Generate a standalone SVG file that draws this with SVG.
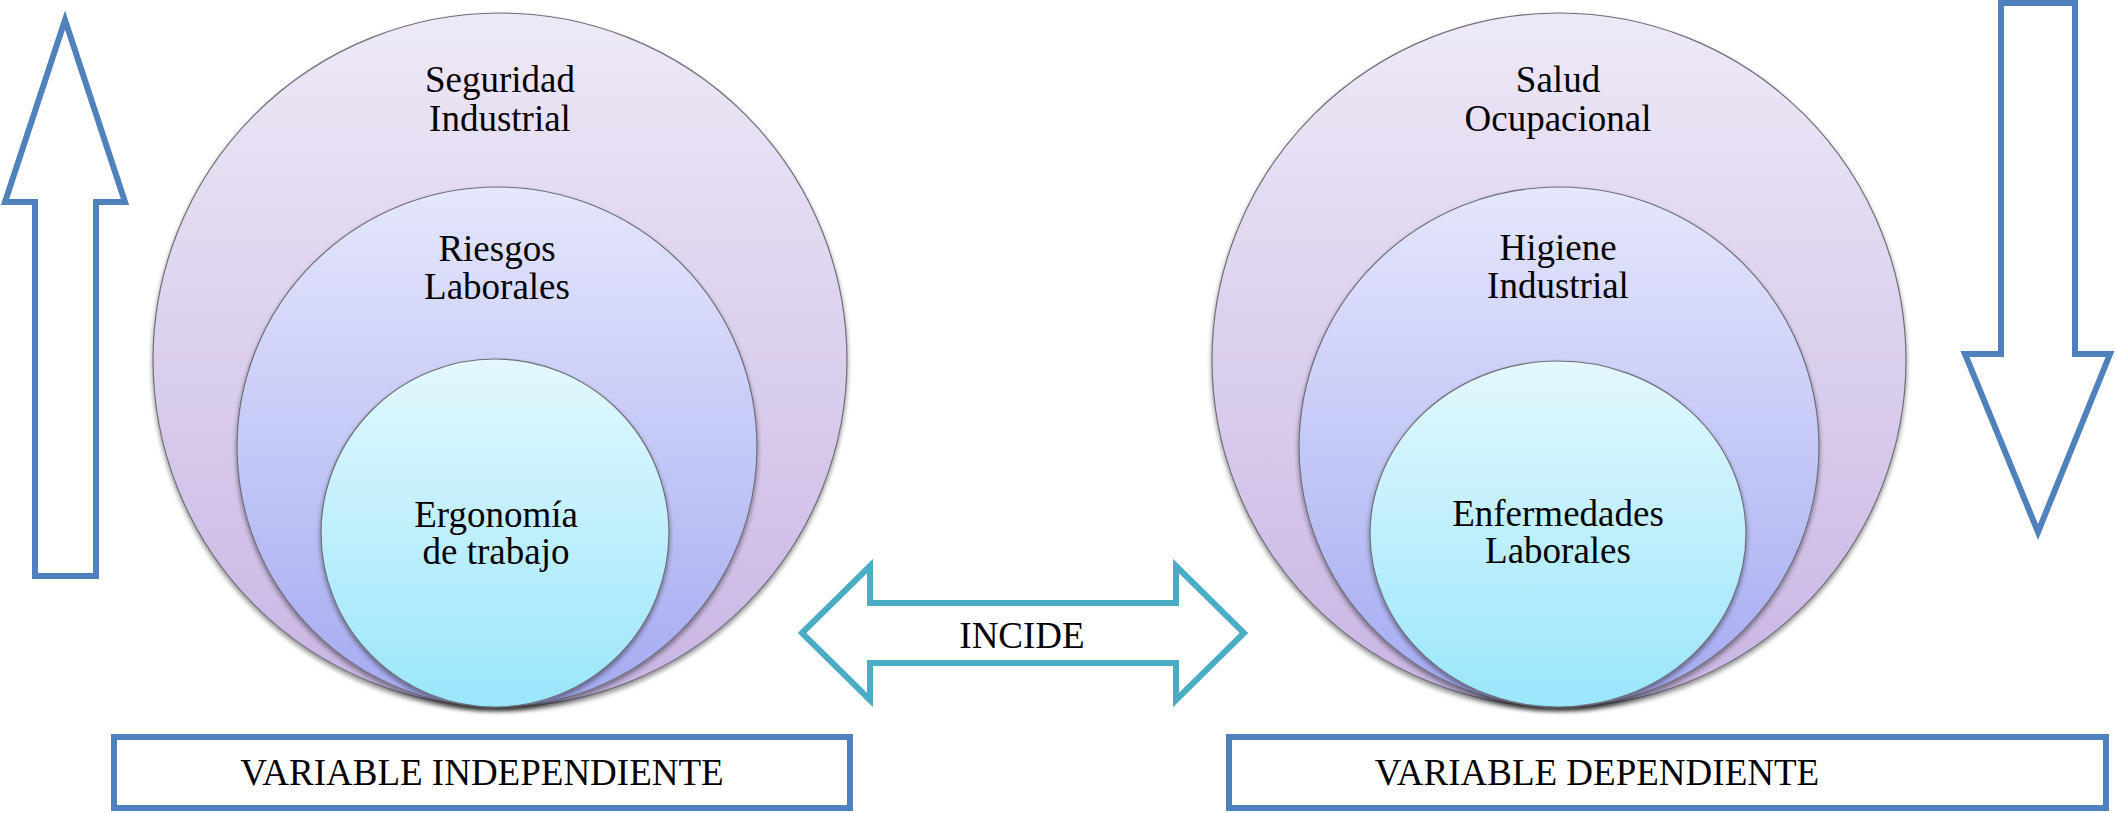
<svg xmlns="http://www.w3.org/2000/svg" width="2116" height="813" viewBox="0 0 2116 813">
  <defs>
    <linearGradient id="gOuter" x1="0" y1="0" x2="0" y2="1">
      <stop offset="0" stop-color="#EEE9F7"/>
      <stop offset="1" stop-color="#C8B5E3"/>
    </linearGradient>
    <linearGradient id="gMid" x1="0" y1="0" x2="0" y2="1">
      <stop offset="0" stop-color="#E5E7FC"/>
      <stop offset="1" stop-color="#A4AAF1"/>
    </linearGradient>
    <linearGradient id="gInner" x1="0" y1="0" x2="0" y2="1">
      <stop offset="0" stop-color="#E3F8FD"/>
      <stop offset="1" stop-color="#9AE6FB"/>
    </linearGradient>
    <filter id="sh" x="-10%" y="-10%" width="120%" height="125%">
      <feGaussianBlur in="SourceAlpha" stdDeviation="2.5"/>
      <feOffset dx="0" dy="3" result="b"/>
      <feComponentTransfer><feFuncA type="linear" slope="0.45"/></feComponentTransfer>
      <feMerge><feMergeNode/><feMergeNode in="SourceGraphic"/></feMerge>
    </filter>
  </defs>
  <style>
    .c { stroke: #6E6E78; stroke-width: 1.2; filter: url(#sh); }
    .o { fill: url(#gOuter); }
    .m { fill: url(#gMid); }
    .i { fill: url(#gInner); }
    .t { font-family: "Liberation Serif", "Times New Roman", serif; font-size: 37px; fill: #000; text-anchor: middle; }
    .blue { fill: #FFFFFF; stroke: #4F81BD; stroke-width: 6; stroke-linejoin: miter; stroke-miterlimit: 10; }
    .cyan { fill: #FFFFFF; stroke: #4BACC6; stroke-width: 6; stroke-linejoin: miter; stroke-miterlimit: 10; }
  </style>

  <rect width="2116" height="813" fill="#FFFFFF"/>

  <g id="arrow-up">
    <polygon class="blue" points="65,20 125,202 96,202 96,576 35,576 35,202 5,202"/>
  </g>

  <g id="arrow-down">
    <polygon class="blue" points="2001,3 2075,3 2075,354 2110,354 2038,532 1965,354 2001,354"/>
  </g>

  <g id="seguridad-industrial">
    <circle class="c o" cx="500" cy="360" r="347"/>
    <text class="t" x="500" y="92">Seguridad</text>
    <text class="t" x="500" y="131">Industrial</text>
  </g>
  <g id="riesgos-laborales">
    <circle class="c m" cx="497" cy="447" r="260"/>
    <text class="t" x="497" y="261">Riesgos</text>
    <text class="t" x="497" y="299">Laborales</text>
  </g>
  <g id="ergonomia">
    <circle class="c i" cx="495" cy="533" r="174"/>
    <text class="t" x="496" y="527">Ergonomía</text>
    <text class="t" x="496" y="564">de trabajo</text>
  </g>

  <g id="salud-ocupacional">
    <circle class="c o" cx="1559" cy="360" r="347"/>
    <text class="t" x="1558" y="92">Salud</text>
    <text class="t" x="1558" y="131">Ocupacional</text>
  </g>
  <g id="higiene-industrial">
    <circle class="c m" cx="1559" cy="447" r="260"/>
    <text class="t" x="1558" y="260">Higiene</text>
    <text class="t" x="1558" y="298">Industrial</text>
  </g>
  <g id="enfermedades-laborales">
    <ellipse class="c i" cx="1558" cy="534" rx="188" ry="173"/>
    <text class="t" x="1558" y="526">Enfermedades</text>
    <text class="t" x="1558" y="563">Laborales</text>
  </g>

  <g id="connectors">
    <polygon class="cyan" points="802,633 870,566 870,603 1176,603 1176,566 1244,633 1176,700 1176,663 870,663 870,700"/>
    <text class="t" x="1022" y="648">INCIDE</text>
  </g>

  <g id="variable-independiente">
    <rect class="blue" x="114" y="737" width="736" height="71"/>
    <text class="t" x="482" y="785">VARIABLE INDEPENDIENTE</text>
  </g>
  <g id="variable-dependiente">
    <rect class="blue" x="1229" y="737" width="877" height="71"/>
    <text class="t" x="1597" y="785">VARIABLE DEPENDIENTE</text>
  </g>
</svg>
